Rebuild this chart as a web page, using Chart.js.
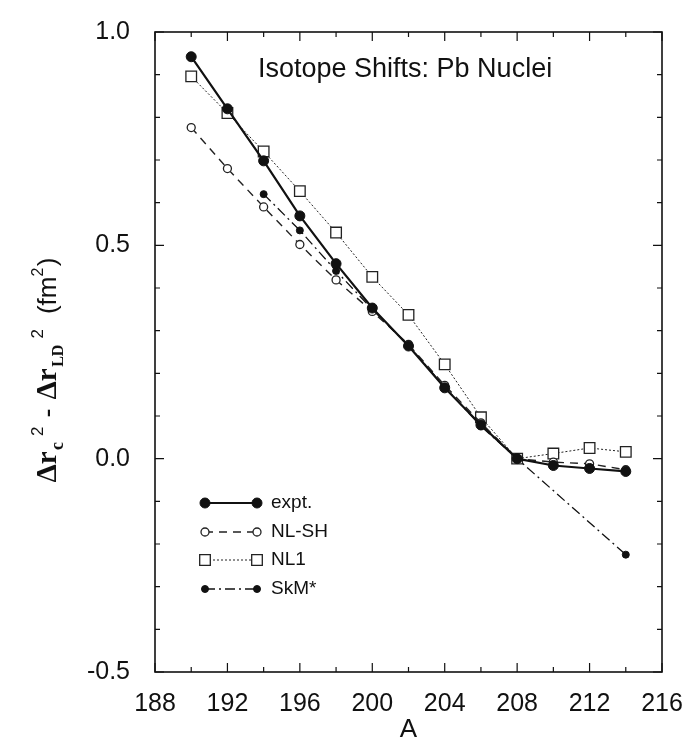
<!DOCTYPE html>
<html>
<head>
<meta charset="utf-8">
<style>
  * { margin: 0; padding: 0; box-sizing: border-box; }
  body { background: #fff; width: 694px; height: 751px; overflow: hidden; }
  #chart { display: block; }
</style>
</head>
<body>
<canvas id="chart" width="694" height="751"></canvas>

<script src="https://cdn.jsdelivr.net/npm/chart.js/dist/chart.umd.min.js"></script>
<script>
// mass numbers of the Pb isotopes
const massNumbers = [190, 192, 194, 196, 198, 200, 202, 204, 206, 208, 210, 212, 214];

// dr_c^2 - dr_LD^2 in fm^2, relative to 208Pb
const expt  = [0.942, 0.820, 0.698, 0.569, 0.457, 0.353, 0.264, 0.166, 0.079, 0, -0.016, -0.023, -0.030];
const nlSH  = [0.776, 0.680, 0.590, 0.502, 0.419, 0.345, 0.268, 0.172, 0.084, 0, -0.008, -0.012, -0.026];
const nl1   = [0.896, 0.810, 0.720, 0.627, 0.530, 0.426, 0.337, 0.221, 0.097, 0, 0.012, 0.025, 0.016];
const skm   = [null, null, 0.620, 0.535, 0.440, 0.350, 0.265, 0.168, 0.076, 0, null, null, -0.225];

const seriesNames = ['expt.', 'NL-SH', 'NL1', 'SkM*'];

const xTicks = { min: 188, max: 216, step: 4 };
const yTicks = { min: -0.5, max: 1.0, step: 0.5 };

const INK = '#111';
const SANS = '"Liberation Sans", Arial, Helvetica, sans-serif';
const SERIF = '"Liberation Serif", "Times New Roman", serif';

function points(values) {
  const out = [];
  values.forEach((v, i) => { if (v !== null) out.push({ x: massNumbers[i], y: v }); });
  return out;
}

const datasets = [
  { label: seriesNames[0], data: points(expt), borderColor: INK, borderWidth: 2.2,
    pointStyle: 'circle', pointRadius: 5, pointBackgroundColor: INK, pointBorderColor: INK, pointBorderWidth: 1 },
  { label: seriesNames[1], data: points(nlSH), borderColor: '#222', borderWidth: 1.4, borderDash: [8, 6],
    pointStyle: 'circle', pointRadius: 4, pointBackgroundColor: '#fff', pointBorderColor: '#222', pointBorderWidth: 1.3 },
  { label: seriesNames[2], data: points(nl1), borderColor: '#222', borderWidth: 1, borderDash: [2, 2],
    pointStyle: 'rect', pointRadius: 7.5, pointBackgroundColor: '#fff', pointBorderColor: '#222', pointBorderWidth: 1.3 },
  { label: seriesNames[3], data: points(skm), borderColor: INK, borderWidth: 1.3, borderDash: [10, 4, 2, 4],
    pointStyle: 'circle', pointRadius: 3.5, pointBackgroundColor: INK, pointBorderColor: INK, pointBorderWidth: 1 }
];

// frame with inward tick marks on all four sides
const frame = {
  id: 'frame',
  beforeDatasetsDraw(chart) {
    const { ctx, chartArea: a, scales: { x, y } } = chart;
    ctx.save();
    ctx.strokeStyle = INK;
    ctx.lineWidth = 1.6;
    ctx.strokeRect(a.left, a.top, a.right - a.left, a.bottom - a.top);
    ctx.lineWidth = 1.2;
    ctx.beginPath();
    for (let v = xTicks.min; v <= xTicks.max; v += 2) {
      const len = (v - xTicks.min) % 4 === 0 ? 9 : 5;
      const px = x.getPixelForValue(v);
      ctx.moveTo(px, a.bottom); ctx.lineTo(px, a.bottom - len);
      ctx.moveTo(px, a.top); ctx.lineTo(px, a.top + len);
    }
    for (let k = 0; k <= 15; k++) {
      const v = yTicks.min + k * 0.1;
      const len = k % 5 === 0 ? 9 : 5;
      const py = y.getPixelForValue(v);
      ctx.moveTo(a.left, py); ctx.lineTo(a.left + len, py);
      ctx.moveTo(a.right, py); ctx.lineTo(a.right - len, py);
    }
    ctx.stroke();
    ctx.restore();
  },
  afterDraw(chart) {
    const { ctx, chartArea: a } = chart;
    ctx.save();
    ctx.fillStyle = INK;

    // title inside the plot
    ctx.font = '27px ' + SANS;
    ctx.textBaseline = 'alphabetic';
    ctx.fillText('Isotope Shifts: Pb Nuclei', 258, 77);

    // x axis title
    ctx.font = '26px ' + SANS;
    ctx.textAlign = 'center';
    ctx.fillText('A', (a.left + a.right) / 2, 737);
    ctx.textAlign = 'left';

    // legend: line with a marker at each end
    const rows = [503, 532, 560, 589];
    chart.data.datasets.forEach((ds, i) => {
      const yy = rows[i];
      ctx.save();
      ctx.strokeStyle = ds.borderColor;
      ctx.lineWidth = ds.borderWidth;
      ctx.setLineDash(ds.borderDash || []);
      ctx.beginPath();
      ctx.moveTo(205, yy); ctx.lineTo(257, yy);
      ctx.stroke();
      ctx.setLineDash([]);
      ctx.fillStyle = ds.pointBackgroundColor;
      ctx.strokeStyle = ds.pointBorderColor;
      ctx.lineWidth = ds.pointBorderWidth;
      const opts = { pointStyle: ds.pointStyle, radius: ds.pointRadius, borderWidth: ds.pointBorderWidth, rotation: 0 };
      Chart.helpers.drawPoint(ctx, opts, 205, yy);
      Chart.helpers.drawPoint(ctx, opts, 257, yy);
      ctx.restore();
      ctx.font = '19px ' + SANS;
      ctx.textBaseline = 'middle';
      ctx.fillText(ds.label, 271, yy);
    });

    // y axis title with sub- and superscripts, spread over a fixed length
    const parts = [
      { t: '\u0394r', f: 'bold 29px ' + SERIF, dy: 0 },
      { t: 'c', f: 'bold 18px ' + SERIF, dy: 7 },
      { t: '2', f: '17px ' + SANS, dy: -13 },
      { t: '-', f: '27px ' + SANS, dy: 0 },
      { t: '\u0394r', f: 'bold 29px ' + SERIF, dy: 0 },
      { t: 'LD', f: 'bold 16px ' + SERIF, dy: 7 },
      { t: '2', f: '17px ' + SANS, dy: -13 },
      { t: '(fm', f: '26px ' + SANS, dy: 0 },
      { t: '2', f: '16px ' + SANS, dy: -13 },
      { t: ')', f: '26px ' + SANS, dy: 0 }
    ];
    const gaps = [0, 1, 4, 6, 6, 1, 4, 10, 0, 1];
    const length = 225;
    let total = 0;
    parts.forEach((p, i) => { ctx.font = p.f; p.w = ctx.measureText(p.t).width; total += p.w + gaps[i]; });
    const stretch = Math.max(0, (length - total) / gaps.reduce((s, g) => s + g, 0));
    let run = 0;
    parts.forEach((p, i) => { run += p.w + gaps[i] * (1 + stretch); });
    ctx.translate(56, 370);
    ctx.rotate(-Math.PI / 2);
    ctx.textBaseline = 'alphabetic';
    let u = -run / 2;
    parts.forEach((p, i) => {
      u += gaps[i] * (1 + stretch);
      ctx.font = p.f;
      ctx.fillText(p.t, u, p.dy);
      u += p.w;
    });
    ctx.restore();
  }
};

new Chart(document.getElementById('chart'), {
  type: 'line',
  data: { datasets },
  options: {
    responsive: false,
    devicePixelRatio: 1,
    animation: false,
    layout: { padding: { top: 20, right: 32, left: 0, bottom: 0 } },
    plugins: { legend: { display: false }, tooltip: { enabled: false } },
    elements: { line: { tension: 0, fill: false } },
    scales: {
      x: {
        type: 'linear', min: xTicks.min, max: xTicks.max,
        grid: { display: false }, border: { display: false },
        ticks: { stepSize: xTicks.step, color: INK, padding: 9, font: { family: SANS, size: 25 } },
        afterFit(scale) { scale.height = 79; }
      },
      y: {
        type: 'linear', min: yTicks.min, max: yTicks.max,
        grid: { display: false }, border: { display: false },
        ticks: { stepSize: yTicks.step, color: INK, padding: 17, font: { family: SANS, size: 25 },
                 callback: v => v.toFixed(1) },
        afterFit(scale) { scale.width = 155; }
      }
    }
  },
  plugins: [frame]
});
</script>
</body>
</html>
